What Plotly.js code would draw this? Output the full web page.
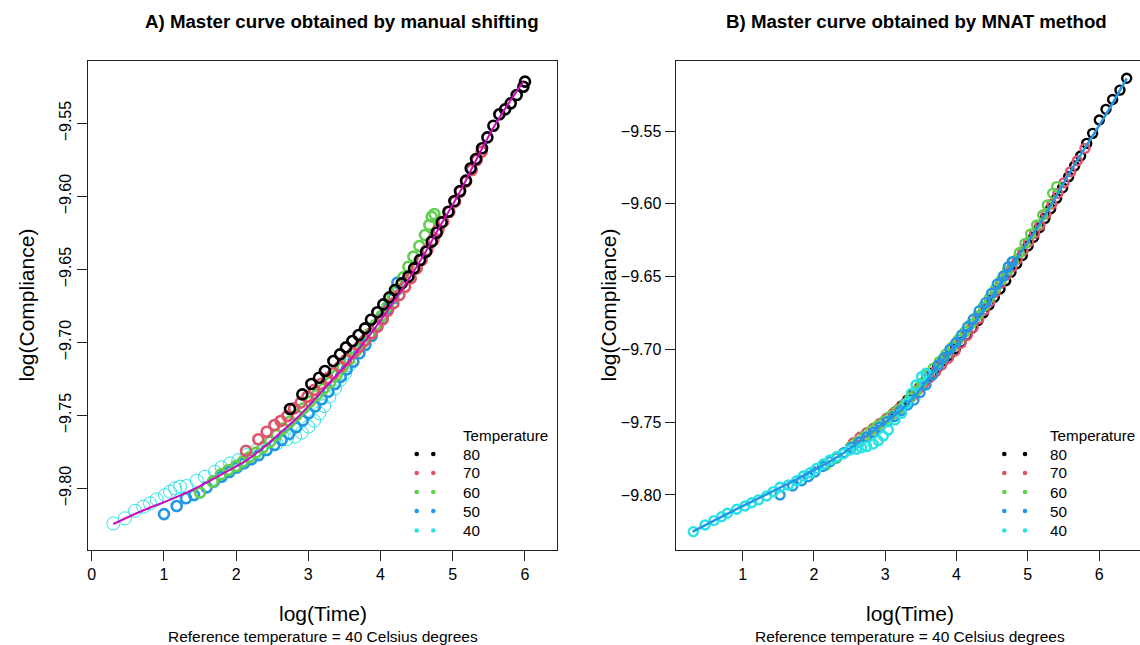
<!DOCTYPE html>
<html><head><meta charset="utf-8">
<script src="https://cdn.plot.ly/plotly-3.0.1.min.js"></script>
<style>html,body{margin:0;padding:0;background:#fff}#chart{width:1140px;height:645px}</style>
</head><body><div id="chart"></div>
<script>
const temps = ['80','70','60','50','40'];
const colors = ['#000000','#DF536B','#61D04F','#2297E6','#28E2E5'];
const fitColorA = '#CD0BBC';

// Panel A: manual shifting
const a80x = [2.747,2.917,3.042,3.148,3.231,3.347,3.439,3.522,3.610,3.698,3.785,3.868,3.956,4.039,4.122,4.201,4.293,4.386,4.464,4.547,4.630,4.709,4.778,4.847,4.940,5.023,5.101,5.184,5.249,5.323,5.406,5.480,5.563,5.646,5.725,5.803,5.886,5.978,6.001];
const a80y = [-9.7455,-9.7355,-9.7284,-9.7241,-9.7195,-9.7127,-9.7081,-9.7033,-9.6990,-9.6949,-9.6903,-9.6844,-9.6793,-9.6739,-9.6691,-9.6640,-9.6595,-9.6549,-9.6492,-9.6435,-9.6378,-9.6309,-9.6248,-9.6177,-9.6104,-9.6031,-9.5962,-9.5891,-9.5807,-9.5743,-9.5670,-9.5595,-9.5515,-9.5437,-9.5403,-9.5362,-9.5305,-9.5248,-9.5213];
const a70x = [2.137,2.308,2.423,2.530,2.617,2.710,2.802,2.894,2.987,3.079,3.171,3.264,3.347,3.439,3.522,3.615,3.707,3.790,3.878,3.956,4.030,4.099,4.178,4.261,4.340,4.418,4.501,4.570,4.649,4.732,4.801,4.870,4.953,5.032,5.101,5.184,5.263,5.332,5.401];
const a70y = [-9.7741,-9.7663,-9.7611,-9.7565,-9.7538,-9.7503,-9.7451,-9.7412,-9.7371,-9.7325,-9.7284,-9.7245,-9.7211,-9.7165,-9.7120,-9.7074,-9.7029,-9.6983,-9.6937,-9.6891,-9.6841,-9.6782,-9.6732,-9.6675,-9.6618,-9.6560,-9.6492,-9.6435,-9.6366,-9.6298,-9.6229,-9.6172,-9.6104,-9.6035,-9.5967,-9.5898,-9.5818,-9.5750,-9.5693];
const a60x = [1.500,1.676,1.791,1.893,1.999,2.091,2.183,2.276,2.368,2.470,2.562,2.654,2.747,2.839,2.931,3.024,3.116,3.208,3.301,3.393,3.476,3.568,3.661,3.753,3.846,3.928,4.012,4.095,4.169,4.242,4.316,4.386,4.455,4.538,4.616,4.676,4.709,4.746];
const a60y = [-9.8028,-9.7953,-9.7903,-9.7873,-9.7846,-9.7816,-9.7786,-9.7754,-9.7720,-9.7679,-9.7633,-9.7588,-9.7542,-9.7497,-9.7451,-9.7405,-9.7360,-9.7318,-9.7273,-9.7223,-9.7170,-9.7115,-9.7056,-9.7001,-9.6942,-9.6880,-9.6818,-9.6754,-9.6691,-9.6636,-9.6554,-9.6481,-9.6412,-9.6339,-9.6264,-9.6195,-9.6138,-9.6120];
const a50x = [1.001,1.177,1.306,1.417,1.592,1.694,1.800,1.906,2.008,2.109,2.211,2.313,2.423,2.530,2.631,2.733,2.830,2.922,3.005,3.093,3.185,3.278,3.370,3.448,3.531,3.624,3.707,3.790,3.878,3.956,4.030,4.109,4.178,4.233];
const a50y = [-9.8175,-9.8120,-9.8067,-9.8045,-9.7992,-9.7953,-9.7919,-9.7887,-9.7857,-9.7828,-9.7800,-9.7771,-9.7736,-9.7702,-9.7668,-9.7627,-9.7581,-9.7535,-9.7485,-9.7439,-9.7389,-9.7337,-9.7284,-9.7234,-9.7184,-9.7131,-9.7074,-9.7017,-9.6955,-9.6891,-9.6834,-9.6766,-9.6697,-9.6590];
const a40x = [0.300,0.461,0.600,0.715,0.808,0.900,1.015,1.085,1.154,1.223,1.315,1.454,1.569,1.708,1.800,1.916,2.031,2.146,2.285,2.400,2.562,2.700,2.816,2.908,3.000,3.079,3.153,3.218,3.291,3.370,3.439,3.508,3.568];
const a40y = [-9.8239,-9.8204,-9.8152,-9.8124,-9.8102,-9.8074,-9.8045,-9.8022,-9.7999,-9.7987,-9.7983,-9.7946,-9.7919,-9.7885,-9.7855,-9.7828,-9.7805,-9.7771,-9.7736,-9.7725,-9.7691,-9.7663,-9.7645,-9.7617,-9.7576,-9.7535,-9.7485,-9.7435,-9.7371,-9.7314,-9.7257,-9.7211,-9.7154];
const fitAx = [0.300,0.669,1.131,1.500,1.823,2.146,2.423,2.654,2.885,3.162,3.578,4.039,4.501,4.847,5.101,5.332,5.563,5.803,5.978];
const fitAy = [-9.8243,-9.8159,-9.8067,-9.7983,-9.7896,-9.7805,-9.7702,-9.7599,-9.7496,-9.7348,-9.7120,-9.6823,-9.6481,-9.6184,-9.5967,-9.5743,-9.5530,-9.5340,-9.5213];

// Panel B: MNAT method
const b80x = [3.146,3.231,3.315,3.404,3.488,3.572,3.656,3.736,3.815,3.899,3.984,4.063,4.142,4.222,4.302,4.377,4.456,4.531,4.610,4.690,4.764,4.844,4.923,5.003,5.082,5.162,5.241,5.321,5.405,5.489,5.573,5.657,5.741,5.826,5.910,6.003,6.097,6.190,6.293,6.387];
const b80y = [-9.7428,-9.7389,-9.7348,-9.7302,-9.7256,-9.7210,-9.7164,-9.7123,-9.7077,-9.7040,-9.6995,-9.6950,-9.6900,-9.6852,-9.6802,-9.6750,-9.6695,-9.6642,-9.6585,-9.6528,-9.6470,-9.6412,-9.6355,-9.6290,-9.6230,-9.6165,-9.6100,-9.6034,-9.5962,-9.5890,-9.5814,-9.5740,-9.5672,-9.5585,-9.5516,-9.5424,-9.5351,-9.5283,-9.5219,-9.5138];
const b70x = [2.553,2.646,2.740,2.834,2.927,3.020,3.114,3.198,3.282,3.371,3.455,3.540,3.623,3.707,3.792,3.886,3.979,4.063,4.152,4.236,4.311,4.395,4.470,4.544,4.620,4.704,4.778,4.853,4.933,5.012,5.096,5.171,5.255,5.339,5.423,5.508,5.601,5.695,5.802];
const b70y = [-9.7641,-9.7604,-9.7572,-9.7542,-9.7508,-9.7473,-9.7439,-9.7405,-9.7370,-9.7325,-9.7279,-9.7238,-9.7194,-9.7153,-9.7107,-9.7061,-9.7011,-9.6958,-9.6903,-9.6848,-9.6789,-9.6729,-9.6670,-9.6608,-9.6546,-9.6489,-9.6436,-9.6381,-9.6324,-9.6262,-9.6203,-9.6148,-9.6070,-9.6001,-9.5928,-9.5855,-9.5779,-9.5704,-9.5619];
const b60x = [2.170,2.319,2.422,2.516,2.609,2.703,2.796,2.890,2.983,3.077,3.170,3.264,3.348,3.432,3.511,3.591,3.675,3.759,3.852,3.946,4.030,4.119,4.203,4.292,4.376,4.460,4.544,4.629,4.713,4.797,4.881,4.961,5.040,5.124,5.209,5.274,5.349,5.405];
const b60y = [-9.7794,-9.7748,-9.7709,-9.7668,-9.7634,-9.7599,-9.7560,-9.7526,-9.7492,-9.7457,-9.7421,-9.7382,-9.7336,-9.7290,-9.7233,-9.7176,-9.7130,-9.7084,-9.7032,-9.6981,-9.6931,-9.6878,-9.6826,-9.6771,-9.6707,-9.6649,-9.6587,-9.6523,-9.6459,-9.6397,-9.6336,-9.6272,-9.6207,-9.6146,-9.6077,-9.6008,-9.5928,-9.5882];
const b50x = [1.525,1.702,1.828,1.922,2.015,2.123,2.226,2.320,2.422,2.530,2.637,2.740,2.834,2.927,3.030,3.123,3.222,3.315,3.404,3.488,3.572,3.666,3.745,3.825,3.909,3.993,4.072,4.157,4.236,4.320,4.409,4.493,4.572,4.657,4.727,4.783];
const b50y = [-9.8000,-9.7938,-9.7902,-9.7874,-9.7842,-9.7805,-9.7771,-9.7741,-9.7709,-9.7673,-9.7638,-9.7604,-9.7570,-9.7535,-9.7496,-9.7462,-9.7421,-9.7382,-9.7348,-9.7297,-9.7245,-9.7176,-9.7107,-9.7057,-9.7000,-9.6954,-9.6901,-9.6844,-9.6793,-9.6734,-9.6679,-9.6615,-9.6551,-9.6496,-9.6432,-9.6397];
const b40x = [0.309,0.473,0.599,0.706,0.786,0.917,1.034,1.127,1.221,1.338,1.432,1.525,1.642,1.758,1.852,1.946,2.039,2.133,2.226,2.320,2.413,2.507,2.600,2.670,2.740,2.834,2.904,2.974,3.044,3.137,3.231,3.301,3.371,3.432,3.511,3.572];
const b40y = [-9.8252,-9.8206,-9.8176,-9.8149,-9.8126,-9.8098,-9.8076,-9.8053,-9.8034,-9.8007,-9.7977,-9.7947,-9.7931,-9.7902,-9.7870,-9.7847,-9.7817,-9.7787,-9.7760,-9.7737,-9.7718,-9.7691,-9.7686,-9.7675,-9.7668,-9.7650,-9.7627,-9.7595,-9.7554,-9.7485,-9.7439,-9.7370,-9.7302,-9.7245,-9.7187,-9.7164];
const fitBx = [0.300,0.964,1.665,2.366,2.834,3.301,3.769,4.236,4.704,5.171,5.639,6.106,6.387];
const fitBy = [-9.8252,-9.8085,-9.7915,-9.7728,-9.7558,-9.7382,-9.7096,-9.6826,-9.6478,-9.6134,-9.5745,-9.5379,-9.5138];

const seriesA = {'80':[a80x,a80y],'70':[a70x,a70y],'60':[a60x,a60y],'50':[a50x,a50y],'40':[a40x,a40y]};
const seriesB = {'80':[b80x,b80y],'70':[b70x,b70y],'60':[b60x,b60y],'50':[b50x,b50y],'40':[b40x,b40y]};

const W = 1140, H = 645;
const fx = p => p / W, fy = p => 1 - p / H;
const FONT = '"Liberation Sans", Arial, Helvetica, sans-serif';

const traces = [];
// Panel A: draw 40 first, 80 last
['40','50','60','70','80'].forEach(t => {
  const i = temps.indexOf(t);
  const thin = (t === '40');
  traces.push({type:'scatter', mode:'markers', x:seriesA[t][0], y:seriesA[t][1], xaxis:'x', yaxis:'y',
    marker:{symbol:'circle-open', size: thin ? 13 : 10, color:colors[i], line:{width: thin ? 1 : 2.6, color:colors[i]}},
    showlegend:false, hoverinfo:'skip'});
});
traces.push({type:'scatter', mode:'lines', x:fitAx, y:fitAy, xaxis:'x', yaxis:'y',
  line:{color:fitColorA, width:2, shape:'spline'}, showlegend:false, hoverinfo:'skip'});
// Panel B
['80','70','60','50','40'].forEach(t => {
  const i = temps.indexOf(t);
  traces.push({type:'scatter', mode:'markers', x:seriesB[t][0], y:seriesB[t][1], xaxis:'x2', yaxis:'y2',
    marker:{symbol:'circle-open', size:9, color:colors[i], line:{width:2.4, color:colors[i]}},
    showlegend:false, hoverinfo:'skip'});
});
traces.push({type:'scatter', mode:'lines', x:fitBx, y:fitBy, xaxis:'x2', yaxis:'y2',
  line:{color:colors[1], width:1.5, dash:'dash', shape:'spline'}, showlegend:false, hoverinfo:'skip'});
traces.push({type:'scatter', mode:'lines', x:fitBx, y:fitBy, xaxis:'x2', yaxis:'y2',
  line:{color:colors[3], width:2.5, shape:'spline'}, showlegend:false, hoverinfo:'skip'});

const axCommon = {showgrid:false, zeroline:false, showline:true, linecolor:'#222', linewidth:1,
  ticks:'outside', ticklen:10, tickwidth:1, tickcolor:'#222',
  tickfont:{family:FONT, size:16, color:'#000'}};

const annotations = [];
const shapes = [];
function txt(text, x, y, opts) {
  annotations.push(Object.assign({text:text, x:fx(x), y:fy(y), xref:'paper', yref:'paper', showarrow:false,
    xanchor:'center', yanchor:'middle', font:{family:FONT, size:16, color:'#000'}}, opts||{}));
}
// titles
txt('<b>A) Master curve obtained by manual shifting</b>', 341.5, 22, {font:{family:FONT, size:18.7, color:'#000'}});
txt('<b>B) Master curve obtained by MNAT method</b>', 916, 22, {font:{family:FONT, size:18.7, color:'#000'}});
// axis titles
[[322.5, 26], [910, 608]].forEach(([cx, ytx]) => {
  txt('log(Time)', cx, 613, {font:{family:FONT, size:21, color:'#000'}});
  txt('Reference temperature = 40 Celsius degrees', cx, 636, {font:{family:FONT, size:15.5, color:'#000'}});
  txt('log(Compliance)', ytx, 305.5, {textangle:-90, font:{family:FONT, size:21, color:'#000'}});
});
// legends
const rowsY = [454, 473, 492, 511, 530.5];
[[416.7, 433.3, 461], [1004.3, 1025, 1048]].forEach(([d1, d2, lx]) => {
  txt('Temperature', lx, 435, {xanchor:'left', font:{family:FONT, size:15.2, color:'#000'}});
  temps.forEach((t, i) => {
    txt(t, lx, rowsY[i], {xanchor:'left', font:{family:FONT, size:15.2, color:'#000'}});
    [d1, d2].forEach(dx => {
      const r = 2.3;
      shapes.push({type:'circle', xref:'paper', yref:'paper', x0:fx(dx-r), x1:fx(dx+r), y0:fy(rowsY[i]+r), y1:fy(rowsY[i]-r),
        fillcolor:colors[i], line:{width:0}});
    });
  });
});

const layout = {
  width:W, height:H, margin:{l:0, r:0, t:0, b:0}, paper_bgcolor:'#fff', plot_bgcolor:'#fff',
  showlegend:false,
  xaxis: Object.assign({}, axCommon, {domain:[fx(88.3), fx(556.7)], range:[-0.047, 6.440], tick0:0, dtick:1, mirror:true, anchor:'y'}),
  yaxis: Object.assign({}, axCommon, {domain:[fy(550), fy(61)], range:[-9.8421, -9.5072], tick0:-9.8, dtick:0.05, tickformat:'.2f', tickangle:-90, mirror:true, anchor:'x'}),
  xaxis2: Object.assign({}, axCommon, {domain:[fx(675.5), 1], range:[0.059, 6.574], tick0:0, dtick:1, mirror:true, anchor:'y2'}),
  yaxis2: Object.assign({}, axCommon, {domain:[fy(550), fy(61)], range:[-9.8378, -9.5019], tick0:-9.8, dtick:0.05, tickformat:'.2f', mirror:false, anchor:'x2'}),
  annotations: annotations, shapes: shapes
};
Plotly.newPlot('chart', traces, layout, {displayModeBar:false, staticPlot:true});
</script>
</body></html>
